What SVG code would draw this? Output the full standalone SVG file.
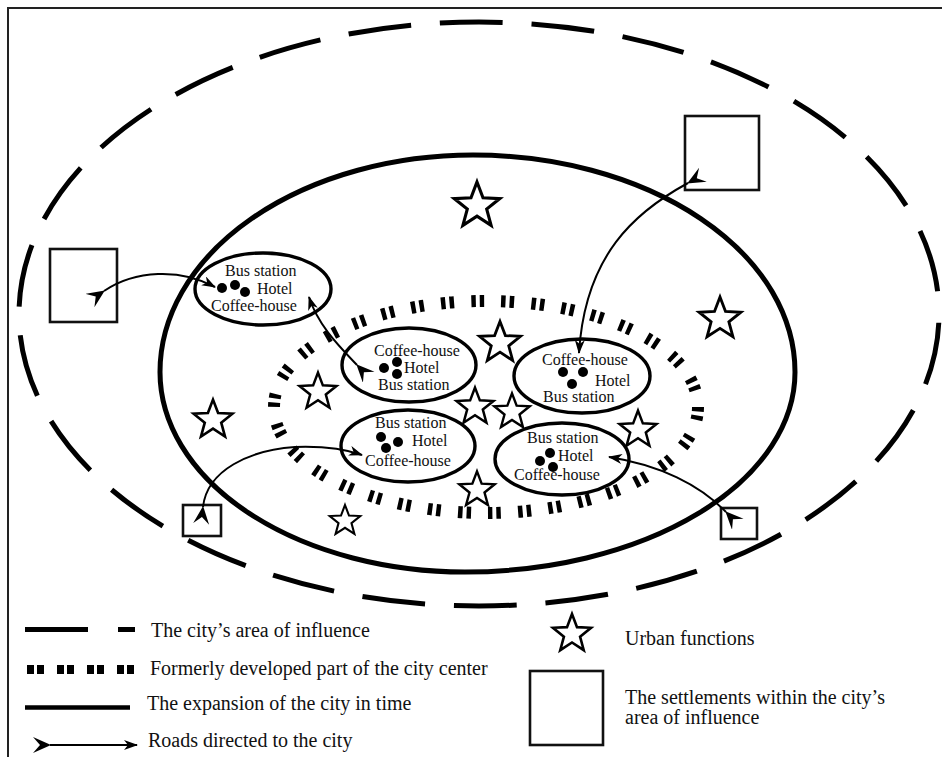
<svg xmlns="http://www.w3.org/2000/svg" width="942" height="757" viewBox="0 0 942 757">
<style>
.t{font-family:"Liberation Serif","Times New Roman",serif;fill:#111}
.n{font-size:16px}
.l{font-size:20px}
.cen{fill:#fff;stroke:#000;stroke-width:3.4}
.sq{fill:#fff;stroke:#111;stroke-width:2.6}
.star{fill:#fff;stroke:#000;stroke-width:2.6;stroke-linejoin:miter}
.dot{fill:#000}
.road{fill:none;stroke:#000;stroke-width:2;marker-start:url(#tail);marker-end:url(#head)}
</style>
<defs>
<marker id="head" markerUnits="userSpaceOnUse" markerWidth="16" markerHeight="12" refX="13" refY="5" orient="auto">
<path d="M0,0 L14,5 L0,10 L4,5 Z" fill="#000"/>
</marker>
<marker id="tail" markerUnits="userSpaceOnUse" markerWidth="20" markerHeight="18" refX="17" refY="8" orient="auto">
<path d="M0,0 L18,8 L0,16 L7,8 Z" fill="#000"/>
</marker>
<polygon id="st" points="0,-20 5,-6.88 19.02,-6.18 8.08,2.63 11.76,16.18 0,8.5 -11.76,16.18 -8.08,2.63 -19.02,-6.18 -5,-6.88"/>
</defs>
<rect x="0" y="0" width="942" height="757" fill="#fff"/>
<rect x="8" y="8" width="940" height="760" fill="none" stroke="#222" stroke-width="2"/>

<g id="area-of-influence">
<ellipse cx="479" cy="314" rx="460" ry="292" fill="none" stroke="#000" stroke-width="5" stroke-dasharray="63 28.87" stroke-dashoffset="83"/>
</g>
<g id="city-expansion">
<path d="M160,372 A313,217 0 0 1 473,155 A322,217 0 0 1 795,372 A330,200 0 0 1 465,572 A305,200 0 0 1 160,372 Z" fill="none" stroke="#000" stroke-width="5"/>
</g>
<g id="former-center">
<ellipse cx="486" cy="407" rx="212" ry="106" fill="none" stroke="#000" stroke-width="12" stroke-dasharray="4.5 4 4.5 17.2"/>
</g>

<g id="stars">
<use href="#st" class="star" transform="translate(477,206) scale(1.2)"/>
<use href="#st" class="star" transform="translate(720,319) scale(1.1)"/>
<use href="#st" class="star" transform="translate(500,343) scale(1.08)"/>
<use href="#st" class="star" transform="translate(318,392) scale(0.97)"/>
<use href="#st" class="star" transform="translate(475,407) scale(0.97)"/>
<use href="#st" class="star" transform="translate(512,412) scale(0.93)"/>
<use href="#st" class="star" transform="translate(638,430) scale(0.97)"/>
<use href="#st" class="star" transform="translate(477,490) scale(0.93)"/>
<use href="#st" class="star" transform="translate(345,521) scale(0.8)"/>
<use href="#st" class="star" transform="translate(213,420) scale(1.02)"/>
</g>

<g id="settlement-nw"><rect class="sq" x="50" y="249" width="67" height="73"/></g>
<g id="settlement-ne"><rect class="sq" x="685" y="116" width="74" height="74"/></g>
<g id="settlement-sw"><rect class="sq" x="183" y="505" width="38" height="31"/></g>
<g id="settlement-se"><rect class="sq" x="721" y="508" width="36" height="31"/></g>

<g id="center-1">
<ellipse class="cen" cx="263" cy="289" rx="68" ry="36"/>
<text class="t n" x="225" y="276">Bus station</text>
<circle class="dot" cx="222" cy="288" r="5"/><circle class="dot" cx="235" cy="285" r="5"/><circle class="dot" cx="245" cy="292" r="5"/>
<text class="t n" x="257" y="294">Hotel</text>
<text class="t n" x="211" y="311">Coffee-house</text>
</g>
<g id="center-2">
<ellipse class="cen" cx="409" cy="365" rx="67" ry="37"/>
<text class="t n" x="374" y="356">Coffee-house</text>
<circle class="dot" cx="384" cy="368" r="5"/><circle class="dot" cx="397" cy="362" r="5"/><circle class="dot" cx="397" cy="374" r="5"/>
<text class="t n" x="404" y="373">Hotel</text>
<text class="t n" x="378" y="390">Bus station</text>
</g>
<g id="center-3">
<ellipse class="cen" cx="582" cy="376" rx="68" ry="37"/>
<text class="t n" x="542" y="365">Coffee-house</text>
<circle class="dot" cx="563" cy="372" r="5"/><circle class="dot" cx="583" cy="372" r="5"/><circle class="dot" cx="572" cy="384" r="5"/>
<text class="t n" x="595" y="386">Hotel</text>
<text class="t n" x="543" y="402">Bus station</text>
</g>
<g id="center-4">
<ellipse class="cen" cx="408" cy="446" rx="67" ry="36"/>
<text class="t n" x="375" y="428">Bus station</text>
<circle class="dot" cx="381" cy="437" r="5"/><circle class="dot" cx="398" cy="442" r="5"/><circle class="dot" cx="386" cy="448" r="5"/>
<text class="t n" x="412" y="446">Hotel</text>
<text class="t n" x="365" y="466">Coffee-house</text>
</g>
<g id="center-5">
<ellipse class="cen" cx="562" cy="459" rx="67" ry="36"/>
<text class="t n" x="527" y="443">Bus station</text>
<circle class="dot" cx="550" cy="453" r="5"/><circle class="dot" cx="540" cy="461" r="5"/><circle class="dot" cx="553" cy="467" r="5"/>
<text class="t n" x="558" y="461">Hotel</text>
<text class="t n" x="514" y="480">Coffee-house</text>
</g>

<g id="roads">
<path class="road" d="M104,291 C135,270 180,268 215,287"/>
<path class="road" d="M357,365 C338,345 318,325 309,297"/>
<path class="road" d="M688,183 C635,212 585,255 579,353"/>
<path class="road" d="M203,507 C207,470 250,450 295,447 C322,446 345,449 362,455"/>
<path class="road" d="M726,512 C700,485 660,465 609,457"/>
</g>

<g id="legend">
<line x1="25" y1="629.5" x2="88" y2="629.5" stroke="#000" stroke-width="5"/>
<line x1="118" y1="629.5" x2="135" y2="629.5" stroke="#000" stroke-width="5"/>
<text class="t l" x="151" y="637">The city’s area of influence</text>
<line x1="27" y1="669.5" x2="135" y2="669.5" stroke="#000" stroke-width="9" stroke-dasharray="7 3 7 13"/>
<text class="t l" x="150" y="675">Formerly developed part of the city center</text>
<line x1="25" y1="707.5" x2="130" y2="707.5" stroke="#000" stroke-width="4.5"/>
<text class="t l" x="147" y="710">The expansion of the city in time</text>
<path class="road" d="M50,745 L137,745"/>
<text class="t l" x="148" y="747">Roads directed to the city</text>
<use href="#st" class="star" transform="translate(572,634) scale(1.0)"/>
<text class="t l" x="625" y="645">Urban functions</text>
<rect class="sq" x="530" y="671" width="73" height="74"/>
<text class="t l" x="625" y="704">The settlements within the city’s</text>
<text class="t l" x="625" y="724">area of influence</text>
</g>
</svg>
